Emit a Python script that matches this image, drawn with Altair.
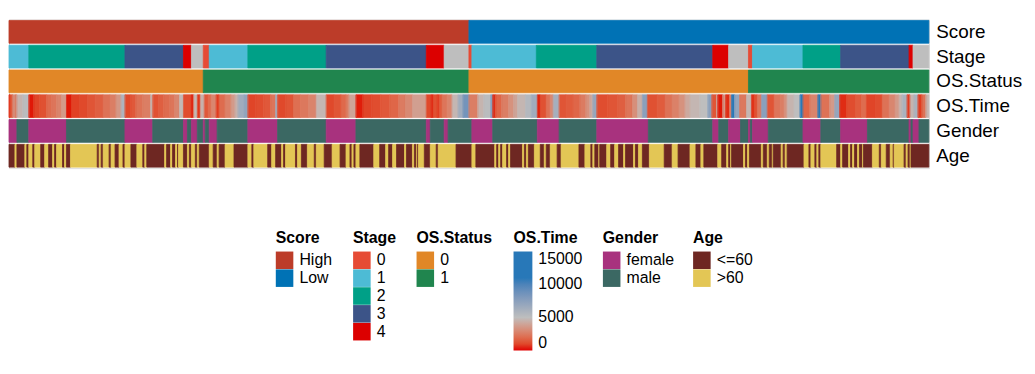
import altair as alt
import pandas as pd

FONT = "Liberation Sans"
ROWS = ["Score", "Stage", "OS.Status", "OS.Time", "Gender", "Age"]
TOTAL = 928  # position units along the sample axis

score_start = [0, 464]
score_val = ["High", "Low"]

stage_start = [0, 20, 117, 176, 184, 196, 202, 241, 320, 421, 439, 464, 467, 532,
               593, 710, 726, 746, 750, 801, 839, 908, 912]
stage_val = ["1", "2", "3", "4", "NA", "0", "1", "2", "3", "4", "NA", "0", "1", "2",
             "3", "4", "NA", "0", "1", "2", "3", "4", "NA"]

status_start = [0, 196, 464, 746]
status_val = ["0", "1", "0", "1"]

ostime_start = [0, 1, 4, 6, 8, 14, 20, 25, 31, 38, 43, 48, 53, 58, 63, 71, 79, 87, 95, 102,
                108, 113, 117, 123, 128, 135, 143, 145, 151, 156, 162, 167, 172, 176, 184,
                186, 187, 190, 193, 197, 201, 204, 209, 212, 218, 224, 228, 231, 237, 241,
                249, 257, 264, 269, 271, 279, 287, 294, 302, 310, 320, 328, 335, 340, 343,
                350, 357, 366, 375, 384, 393, 400, 407, 421, 426, 428, 432, 434, 437, 442,
                447, 453, 458, 464, 473, 479, 486, 488, 491, 497, 504, 509, 513, 521, 527,
                533, 536, 542, 546, 549, 555, 562, 569, 576, 582, 586, 589, 593, 604, 614,
                622, 629, 634, 639, 644, 654, 662, 669, 676, 682, 687, 697, 705, 709, 714,
                715, 720, 723, 727, 729, 732, 737, 744, 749, 752, 755, 759, 765, 772, 778,
                782, 785, 792, 798, 801, 808, 816, 819, 828, 833, 838, 845, 854, 860, 865,
                874, 881, 888, 894, 898, 901, 906, 909, 913, 917, 921, 925]
ostime_val = [300, 1500, 3600, 2400, 4600, 5200, 150, 900, 1200, 2000, 2300, 2800, 3600, 150,
              800, 1000, 1300, 1600, 2200, 2600, 3500, 5800, 1000, 1400, 2200, 2600, 4800,
              1200, 1600, 2000, 2300, 2900, 4800, 1100, 200, 3000, 4800, 600, 4500, 1400,
              2000, 2900, 700, 2000, 2700, 3600, 4500, 6500, 7200, 900, 1100, 1400, 2300,
              6500, 1000, 1300, 2100, 2400, 2800, 4700, 1000, 1300, 1900, 2600, 4000, 200,
              900, 1100, 1400, 1800, 2500, 3000, 3800, 1000, 300, 1200, 600, 1500, 2300,
              2800, 4700, 6500, 8500, 2600, 4600, 5200, 8000, 400, 1800, 2600, 3300, 4000,
              4700, 5500, 6500, 300, 1200, 2200, 3000, 6200, 1300, 1500, 1800, 2500, 3300,
              4200, 7000, 1100, 1300, 1600, 2300, 3200, 4400, 7500, 1200, 1500, 2200, 2700,
              3300, 4200, 4700, 5000, 7500, 1300, 4800, 150, 3500, 400, 3000, 13000, 7000,
              2400, 4700, 500, 1200, 2400, 7500, 1300, 2300, 2600, 3300, 4600, 5000, 12000,
              1800, 2800, 12000, 2200, 3600, 7000, 400, 1100, 1500, 2000, 900, 1100, 2200,
              2900, 3600, 4600, 6000, 700, 4600, 6000, 700, 2200, 4600]

gender_start = [0, 8, 20, 58, 117, 145, 176, 180, 184, 190, 196, 198, 202, 210, 241, 271,
                320, 350, 421, 425, 439, 443, 467, 488, 533, 555, 593, 645, 710, 716, 726,
                738, 746, 748, 750, 766, 801, 819, 839, 866, 908, 910, 912, 918]
gender_code = ["F", "M", "F", "M", "F", "M", "F", "M", "F", "M", "F", "M", "F", "M", "F", "M",
               "F", "M", "F", "M", "F", "M", "F", "M", "F", "M", "F", "M", "F", "M", "F",
               "M", "F", "M", "F", "M", "F", "M", "F", "M", "F", "M", "F", "M"]

age_start = [0, 6, 8, 16, 18, 20, 24, 26, 32, 36, 40, 44, 46, 48, 54, 56, 58, 62, 89, 91,
             93, 95, 101, 103, 107, 111, 115, 117, 123, 129, 135, 137, 139, 157, 159, 163,
             165, 168, 170, 171, 176, 180, 182, 184, 188, 190, 192, 202, 206, 210, 212, 218,
             227, 241, 245, 247, 261, 265, 269, 275, 277, 279, 289, 291, 295, 301, 308, 310,
             318, 326, 334, 340, 344, 346, 348, 350, 354, 368, 374, 380, 383, 387, 391, 399,
             401, 407, 409, 411, 412, 413, 419, 425, 431, 433, 451, 467, 471, 490, 492, 494,
             496, 498, 502, 504, 506, 518, 520, 522, 524, 530, 536, 540, 542, 546, 553, 557,
             575, 581, 587, 589, 591, 595, 596, 603, 607, 611, 615, 620, 622, 630, 632, 635,
             639, 646, 661, 669, 675, 687, 693, 698, 701, 715, 719, 724, 726, 728, 729, 741,
             743, 745, 747, 759, 761, 765, 767, 770, 771, 779, 781, 783, 785, 802, 807, 809,
             813, 815, 817, 819, 835, 839, 841, 847, 849, 851, 853, 856, 858, 861, 862, 871,
             878, 880, 885, 889, 892, 893, 903, 905, 907, 909, 910, 920, 922]
age_code = [
    "L", "H", "L", "H", "L", "H", "L", "H", "L", "H", "L", "H", "L", "H", "L", "H", "L", "H",
    "L", "H", "L", "H", "L", "H", "L", "H", "L", "H", "L", "H", "L", "H", "L", "H", "L", "H",
    "L", "H", "L", "H", "L", "H", "L", "H", "L", "H", "L", "H", "L", "H", "L", "H", "L", "H",
    "L", "H", "L", "H", "L", "H", "L", "H", "L", "H", "L", "H", "L", "H", "L", "H", "L", "H",
    "L", "H", "L", "H", "L", "H", "L", "H", "L", "H", "L", "H", "L", "H", "L", "H", "L", "H",
    "L", "H", "L", "H", "L", "H", "L", "H", "L", "H", "L", "H", "L", "H", "L", "H", "L", "H",
    "L", "H", "L", "H", "L", "H", "L", "H", "L", "H", "L", "H", "L", "H", "L", "H", "L", "H",
    "L", "H", "L", "H", "L", "H", "L", "H", "L", "H", "L", "H", "L", "H", "L", "H", "L", "H",
    "L", "H", "L", "H", "L", "H", "L", "H", "L", "H", "L", "H", "L", "H", "L", "H", "L", "H",
    "L", "H", "L", "H", "L", "H", "L", "H", "L", "H", "L", "H", "L", "H", "L", "H", "L", "H",
    "L", "H", "L", "H", "L", "H", "L", "H", "L", "H", "L"]

gender_names = {"F": "female", "M": "male"}
age_names = {"L": "<=60", "H": ">60"}


def runs(row, starts, values):
    ends = list(starts[1:]) + [TOTAL]
    return pd.DataFrame({"row": row, "start": starts, "end": ends, "value": values})


df_score = runs("Score", score_start, score_val)
df_stage = runs("Stage", stage_start, stage_val)
df_status = runs("OS.Status", status_start, status_val)
df_time = runs("OS.Time", ostime_start, ostime_val)
df_gender = runs("Gender", gender_start, [gender_names[c] for c in gender_code])
df_age = runs("Age", age_start[:len(age_code)], [age_names[c] for c in age_code])

x_enc = alt.X("start:Q", scale=alt.Scale(domain=[0, TOTAL], nice=False, zero=False), axis=None)
x2_enc = alt.X2("end:Q")
y_enc = alt.Y("row:N", scale=alt.Scale(domain=ROWS, paddingInner=0.08, paddingOuter=0.04),
              axis=alt.Axis(orient="right", title=None, ticks=False, domain=False,
                            labelFontSize=19, labelFont=FONT, labelColor="black",
                            labelPadding=7, labelLimit=300))


def sym_legend(title, lx, ly, values=None):
    kw = dict(title=title, orient="none", legendX=lx, legendY=ly, direction="vertical",
              symbolType="square", symbolSize=313, symbolStrokeWidth=0, symbolOpacity=1,
              labelFontSize=16, labelFont=FONT, labelColor="black",
              titleFontSize=16, titleFont=FONT, titleFontWeight="bold", titleColor="black",
              labelOffset=6, rowPadding=0, titlePadding=5, padding=0)
    if values is not None:
        kw["values"] = values
    return alt.Legend(**kw)


def layer(df, scale, legend):
    return alt.Chart(df).mark_rect(strokeWidth=0.8).encode(
        x=x_enc, x2=x2_enc, y=y_enc,
        color=alt.Color("value:N", scale=scale, legend=legend),
        stroke=alt.Stroke("value:N", scale=scale, legend=None),
    )


l_score = layer(df_score, alt.Scale(domain=["High", "Low"], range=["#BC3C29", "#0072B5"]),
                sym_legend("Score", 269, 213))
l_stage = layer(df_stage, alt.Scale(domain=["0", "1", "2", "3", "4", "NA"],
                                    range=["#E64B35", "#4DBBD5", "#00A087", "#3C5488", "#DC0000", "#BEBEBE"]),
                sym_legend("Stage", 347, 213, ["0", "1", "2", "3", "4"]))
l_status = layer(df_status, alt.Scale(domain=["0", "1"], range=["#E18727", "#20854E"]),
                 sym_legend("OS.Status", 411, 213))

time_scale = alt.Scale(domain=[0, 5000, 11000, 15000],
                       range=["#E00000", "#BEBEBE", "#2878B8", "#2878B8"],
                       interpolate="lab", clamp=True)
l_time = alt.Chart(df_time).mark_rect().encode(
    x=x_enc, x2=x2_enc, y=y_enc,
    color=alt.Color("value:Q", scale=time_scale,
                    legend=alt.Legend(title="OS.Time", orient="none", legendX=509, legendY=213,
                                      direction="vertical", type="gradient",
                                      values=[0, 5000, 10000, 15000], format="d",
                                      gradientLength=100, gradientThickness=19,
                                      gradientStrokeWidth=0,
                                      labelFontSize=16, labelFont=FONT, labelColor="black",
                                      titleFontSize=16, titleFont=FONT, titleFontWeight="bold",
                                      titleColor="black", labelOffset=6, titlePadding=5,
                                      padding=0)),
)
l_time_edge = alt.Chart(df_time).mark_rect(filled=False, strokeWidth=0.8).encode(
    x=x_enc, x2=x2_enc, y=y_enc,
    stroke=alt.Stroke("value:Q", scale=time_scale, legend=None),
)
l_gender = layer(df_gender, alt.Scale(domain=["female", "male"], range=["#A8327E", "#3B6863"]),
                 sym_legend("Gender", 599, 213))
l_age = layer(df_age, alt.Scale(domain=["<=60", ">60"], range=["#6E2722", "#E3C655"]),
              sym_legend("Age", 690, 213))

chart = alt.layer(l_score, l_stage, l_status, l_time, l_time_edge, l_gender, l_age).resolve_scale(
    color="independent", stroke="independent"
).properties(
    width=928, height=150,
    padding={"left": 0, "top": 10, "right": 5, "bottom": 5},
).configure_view(stroke=None).configure(background="white")

chart.save("out.html", embed_options={"renderer": "svg", "actions": False})
